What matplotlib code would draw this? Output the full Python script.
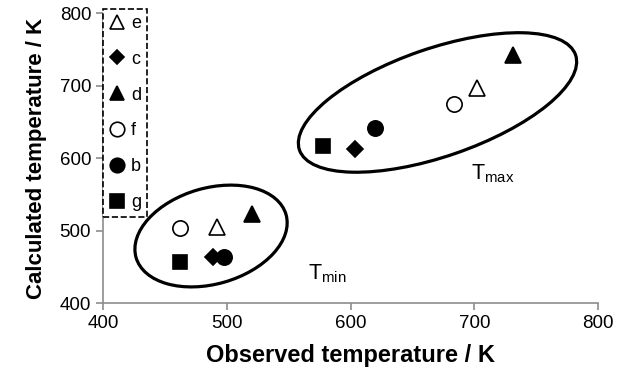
import matplotlib
matplotlib.use('Agg')
import matplotlib.pyplot as plt
from matplotlib.patches import Ellipse
from matplotlib.transforms import ScaledTranslation

plt.rcParams['font.family'] = ['Liberation Sans', 'DejaVu Sans']
plt.rcParams['mathtext.default'] = 'regular'

# samples, in legend order
labels = ['e', 'c', 'd', 'f', 'b', 'g']
markers = ['^', 'D', '^', 'o', 'o', 's']
filled = [False, True, True, False, True, True]
sizes = [11, 8, 11, 11, 11, 10]

# observed / calculated temperatures (K)
tmin_obs = [492, 489, 520, 462, 498, 462]
tmin_calc = [505, 463, 523, 503, 463, 456]
tmax_obs = [702, 604, 731, 684, 620, 578]
tmax_calc = [696, 613, 742, 675, 641, 617]

fig = plt.figure(figsize=(6.19, 3.78), dpi=100)
ax = fig.add_axes([0.1664, 0.1984, 0.7997, 0.7672])

for i, lab in enumerate(labels):
    face = 'black' if filled[i] else 'white'
    ax.plot([tmin_obs[i], tmax_obs[i]], [tmin_calc[i], tmax_calc[i]],
            linestyle='none', marker=markers[i], markersize=sizes[i],
            markerfacecolor=face, markeredgecolor='black',
            markeredgewidth=1.2, label=lab)

# group ellipses, sized in inches around a data-space centre
for (cx, cy), w, h, ang in [((487.3, 492.4), 1.56, 0.96, 16),
                            ((670.3, 676.6), 2.92, 1.08, 19)]:
    tr = fig.dpi_scale_trans + ScaledTranslation(cx, cy, ax.transData)
    ax.add_patch(Ellipse((0, 0), w, h, angle=ang, transform=tr,
                         fill=False, edgecolor='black', linewidth=2.3))

ax.text(566, 432, 'T$_{min}$', fontsize=15.5, ha='left', va='baseline')
ax.text(697, 570, 'T$_{max}$', fontsize=15.5, ha='left', va='baseline')

ax.set_xlim(400, 800)
ax.set_ylim(400, 800)
ax.set_xticks([400, 500, 600, 700, 800])
ax.set_yticks([400, 500, 600, 700, 800])
for s in ['top', 'right']:
    ax.spines[s].set_visible(False)
for s in ['left', 'bottom']:
    ax.spines[s].set_color('#8c8c8c')
    ax.spines[s].set_linewidth(1.2)
ax.tick_params(direction='out', length=5, color='#8c8c8c', labelsize=13.5,
               width=1.2)

ax.set_xlabel('Observed temperature / K', fontsize=17, fontweight='bold',
              labelpad=9)
ax.set_ylabel('Calculated temperature / K', fontsize=16, fontweight='bold',
              labelpad=9)

leg = ax.legend(loc='upper left', bbox_to_anchor=(0.0, 1.015),
                borderaxespad=0, fontsize=13, handlelength=0.9,
                handletextpad=0.3, labelspacing=1.04, borderpad=0.35,
                fancybox=False, framealpha=1, markerscale=0.95)
frame = leg.get_frame()
frame.set_linestyle('--')
frame.set_edgecolor('black')
frame.set_linewidth(1.2)

fig.savefig('out.png', dpi=100)
